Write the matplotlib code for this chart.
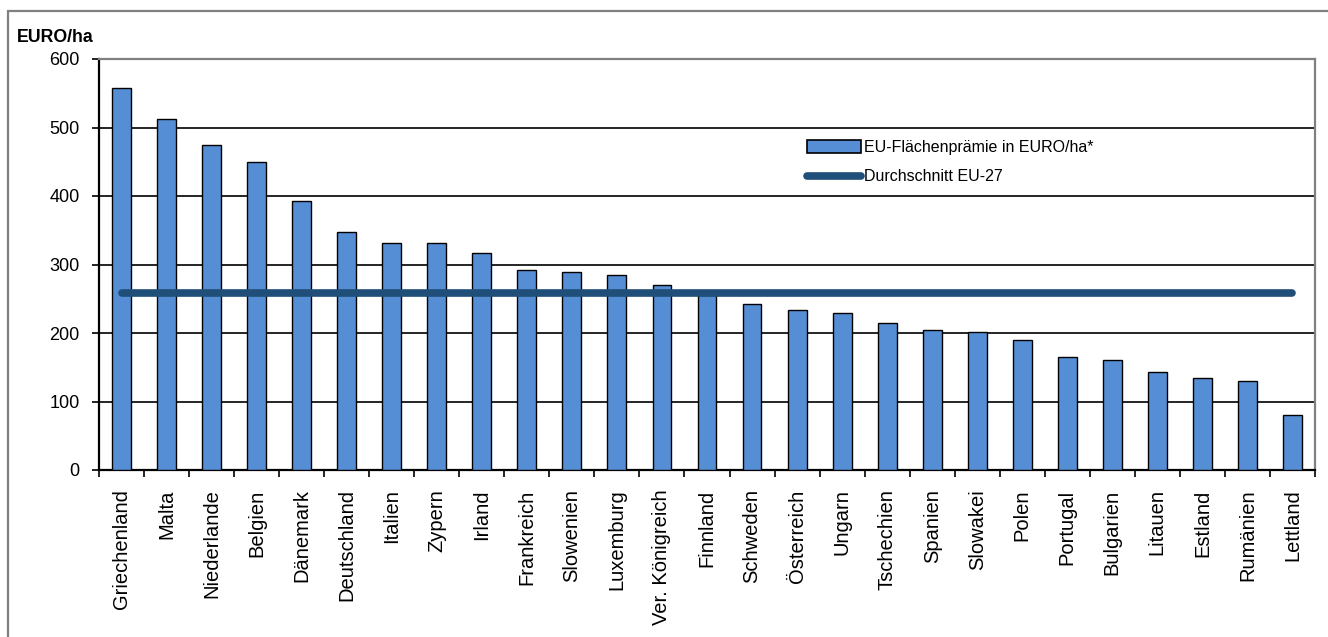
import matplotlib
matplotlib.use("Agg")
import matplotlib.pyplot as plt
from matplotlib import font_manager
from matplotlib.patches import Rectangle, Patch
from matplotlib.lines import Line2D
import numpy as np

countries = ["Griechenland", "Malta", "Niederlande", "Belgien", "Dänemark", "Deutschland",
             "Italien", "Zypern", "Irland", "Frankreich", "Slowenien", "Luxemburg",
             "Ver. Königreich", "Finnland", "Schweden", "Österreich", "Ungarn", "Tschechien",
             "Spanien", "Slowakei", "Polen", "Portugal", "Bulgarien", "Litauen", "Estland",
             "Rumänien", "Lettland"]
premium = [557, 513, 474, 449, 392, 347, 331, 331, 317, 292, 289, 284, 270, 255,
           243, 234, 229, 215, 204, 201, 190, 165, 160, 143, 135, 130, 80]
eu_average = 258
y_ticks = [0, 100, 200, 300, 400, 500, 600]

names = {f.name for f in font_manager.fontManager.ttflist}
base = "Liberation Sans" if "Liberation Sans" in names else "DejaVu Sans"
has_narrow = "Liberation Sans Narrow" in names
narrow = "Liberation Sans Narrow" if has_narrow else base
leg_size = 13.5 if has_narrow else 11.5
plt.rcParams['font.family'] = [base, 'DejaVu Sans']

W, H = 1328, 637
fig = plt.figure(figsize=(W / 100, H / 100), dpi=100)
fig.patch.set_facecolor('white')

# outer frame
fig.patches.append(Rectangle((8 / W, -0.1), 1.2, (1 - 11 / H) + 0.1, transform=fig.transFigure,
                             fill=False, edgecolor='#808080', linewidth=1.6, zorder=0))

ax = fig.add_axes([99 / W, 1 - 470 / H, (1315 - 99) / W, (470 - 59) / H])
x = np.arange(len(countries))
ax.bar(x, premium, width=0.42, color='#558ED5', edgecolor='black', linewidth=1.0, zorder=3)
ax.plot([x[0], x[-1]], [eu_average, eu_average], color='#1F4E79', linewidth=5.5,
        solid_capstyle='round', zorder=4)

ax.set_xlim(-0.5, len(countries) - 0.5)
ax.set_ylim(0, 600)
ax.set_yticks(y_ticks)
ax.set_yticklabels([str(v) for v in y_ticks], fontsize=13)
ax.yaxis.grid(True, color='black', linewidth=1.2, zorder=0)
ax.set_axisbelow(True)

ax.set_xticks(x)
ax.set_xticklabels(countries, rotation=90, fontsize=14.5)
ax.tick_params(axis='x', which='major', length=0, pad=14)
ax.set_xticks(np.arange(-0.5, len(countries), 1), minor=True)
ax.tick_params(axis='x', which='minor', length=5, width=1.2, direction='out', color='black')
ax.tick_params(axis='y', length=5, width=1.2, direction='out', pad=9, color='black')

for s in ['left', 'bottom']:
    ax.spines[s].set_color('black')
    ax.spines[s].set_linewidth(1.6)
for s in ['top', 'right']:
    ax.spines[s].set_color('#808080')
    ax.spines[s].set_linewidth(1.6)

fig.text(17 / W, 1 - 38 / H, "EURO/ha", fontsize=12.8, fontweight='bold', va='center', ha='left')

handles = [Patch(facecolor='#558ED5', edgecolor='black', linewidth=1.2),
           Line2D([0], [0], color='#1F4E79', linewidth=5.5, solid_capstyle='round')]
leg = ax.legend(handles, ["EU-Flächenprämie in EURO/ha*", "Durchschnitt EU-27"],
                loc='upper left', bbox_to_anchor=(807 / W, 1 - 140 / H),
                bbox_transform=fig.transFigure, frameon=False,
                prop={'family': [narrow, 'DejaVu Sans'], 'size': leg_size},
                handlelength=3.4, handleheight=0.8, handletextpad=0.2, labelspacing=0.9,
                borderaxespad=0, borderpad=0)
leg.set_zorder(5)

fig.savefig("out.png", dpi=100, facecolor='white')
